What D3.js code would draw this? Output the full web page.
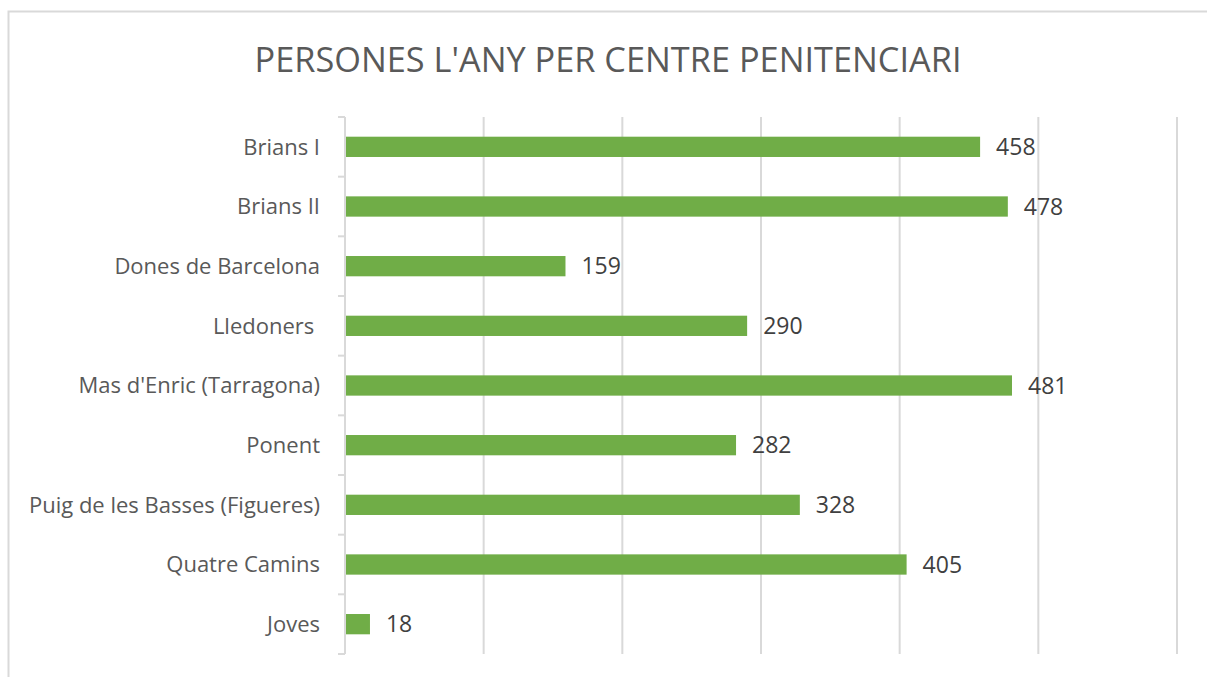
<!DOCTYPE html>
<html><head><meta charset="utf-8">
<script src="https://cdn.jsdelivr.net/npm/d3@7"></script>
<style>body{margin:0;background:#fff}text{font-family:"Open Sans",sans-serif}</style>
</head><body>
<svg id="c" width="1207" height="677"></svg>
<script>
const categories = ["Brians I","Brians II","Dones de Barcelona","Lledoners ","Mas d'Enric (Tarragona)","Ponent","Puig de les Basses (Figueres)","Quatre Camins","Joves"];
const values = [458,478,159,290,481,282,328,405,18];
const xTicks = [0,100,200,300,400,500,600];
const title = "PERSONES L'ANY PER CENTRE PENITENCIARI";

const svg = d3.select("#c");
svg.append("rect").attr("x",8.5).attr("y",11.5).attr("width",1210).attr("height",700)
  .attr("fill","#fff").attr("stroke","#d9d9d9").attr("stroke-width",2);

const x = d3.scaleLinear().domain([0,600]).range([345,1177]);
const y = d3.scaleBand().domain(categories).range([117,654]).paddingInner(0.66).paddingOuter(0.33);
const yb = d3.scaleBand().domain(categories).range([117,654]);

svg.append("text").attr("x",608).attr("y",72).attr("text-anchor","middle")
  .attr("font-size",34).attr("fill","#595959").text(title)
  .attr("textLength",707).attr("lengthAdjust","spacingAndGlyphs");

const g = svg.append("g");
g.selectAll("line.grid").data(xTicks.slice(1)).join("line")
  .attr("x1",d=>x(d)).attr("x2",d=>x(d)).attr("y1",117).attr("y2",654)
  .attr("stroke","#d9d9d9").attr("stroke-width",2);

g.append("line").attr("x1",345).attr("x2",345).attr("y1",117).attr("y2",654).attr("stroke","#d9d9d9").attr("stroke-width",2);
const bounds = categories.map(c=>yb(c)).concat([654]);
g.selectAll("line.tick").data(bounds).join("line")
  .attr("x1",338).attr("x2",345).attr("y1",d=>d).attr("y2",d=>d)
  .attr("stroke","#d9d9d9").attr("stroke-width",2);

g.selectAll("rect.bar").data(values).join("rect")
  .attr("x",x(0)+1).attr("y",(d,i)=>y(categories[i]))
  .attr("width",d=>x(d)-x(0)-1).attr("height",y.bandwidth())
  .attr("fill","#70ad47");

g.selectAll("text.cat").data(categories).join("text")
  .attr("x",320).attr("y",d=>yb(d)+yb.bandwidth()/2).attr("dy","0.36em")
  .attr("text-anchor","end").attr("font-size",22).attr("fill","#595959")
  .style("white-space","pre").text(d=>d);

g.selectAll("text.val").data(values).join("text")
  .attr("x",d=>x(d)+16).attr("y",(d,i)=>yb(categories[i])+yb.bandwidth()/2).attr("dy","0.36em")
  .attr("font-size",23).attr("fill","#404040").text(d=>d);
</script>
</body></html>
